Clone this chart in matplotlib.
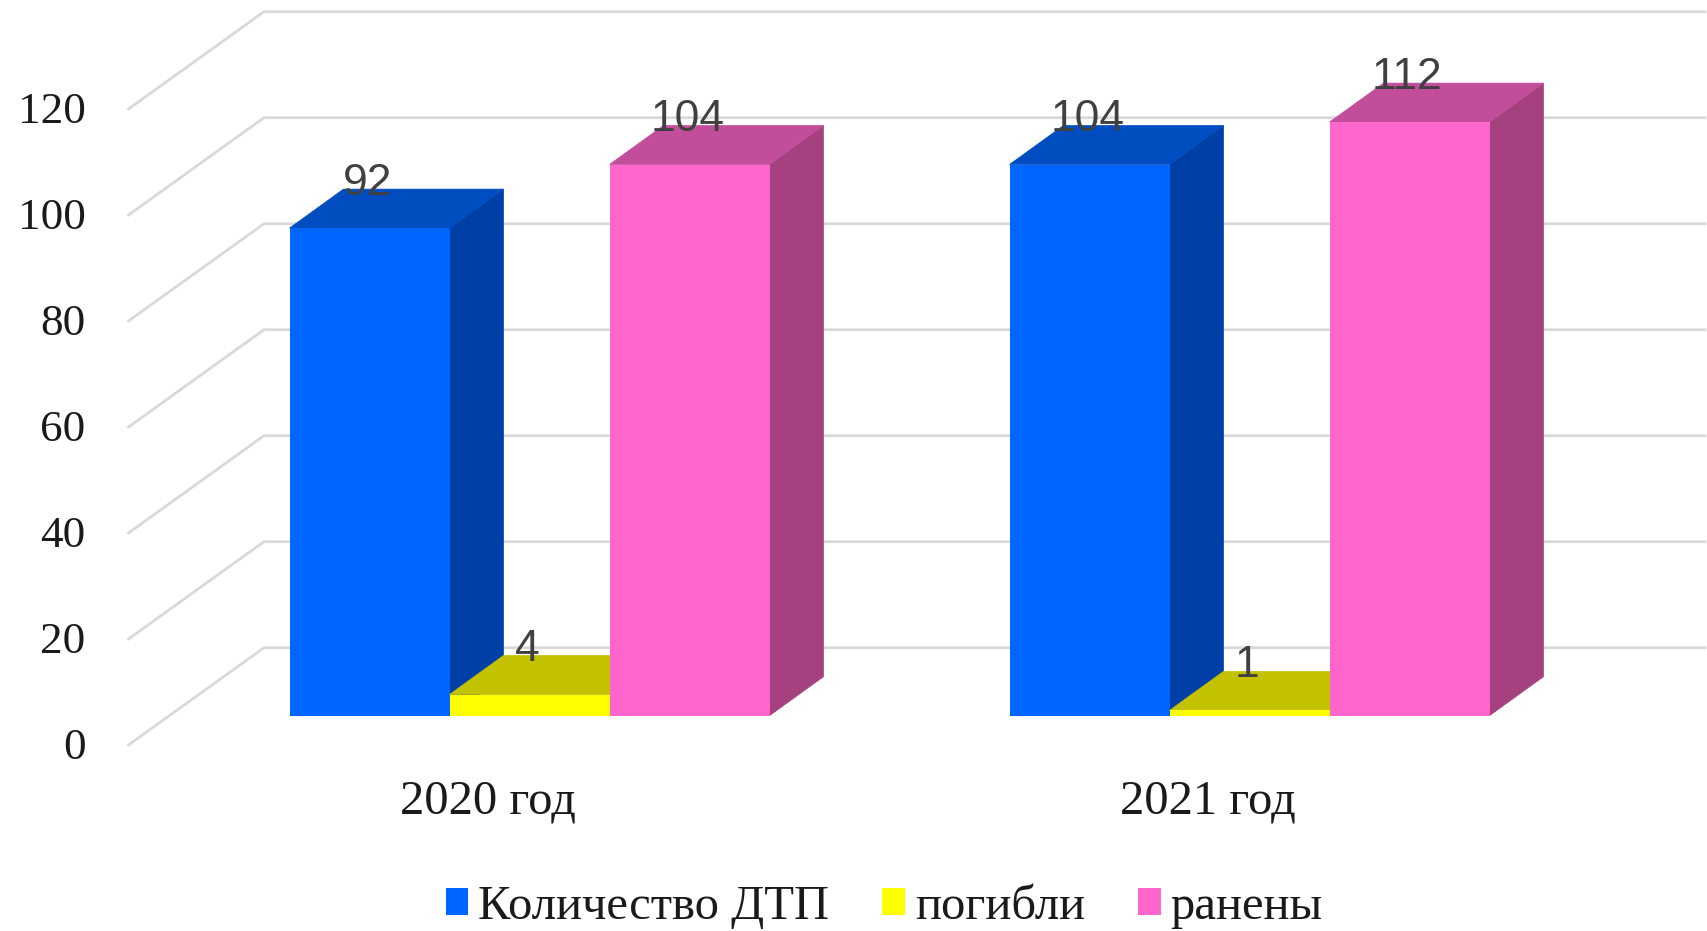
import matplotlib
matplotlib.use("Agg")
import matplotlib.pyplot as plt
from matplotlib.patches import Patch, Polygon

categories = ["2020 год", "2021 год"]
series_names = ["Количество ДТП", "погибли", "ранены"]
dtp = [92, 104]
killed = [4, 1]
injured = [104, 112]
y_ticks = [0, 20, 40, 60, 80, 100, 120]

FRONT = ["#0066ff", "#ffff00", "#ff66cc"]
TOP = ["#004dc2", "#c2c200", "#c24d9b"]
SIDE = ["#0040a6", "#a6a600", "#a6417f"]
GRID = "#d9d9d9"
SERIF = "Liberation Serif"
SANS = "Liberation Sans"

# --- scales: 720 px per category, 5.3 px per unit ---
W, H = 1708, 931
PX_X = 720.0
PX_Y = 5.3
X0 = 529.5
Y0 = 715.7

BAR_W = 160 / PX_X
DEPTH_X = 54 / PX_X
DEPTH_Y = 39 / PX_Y
# floor corners of the chart box
WALL_X = (264 - X0) / PX_X
WALL_Y = (Y0 - 647.7) / PX_Y
EDGE_X = (128.5 - X0) / PX_X
EDGE_Y = (Y0 - 745.0) / PX_Y
RIGHT_X = (1705 - X0) / PX_X

fig = plt.figure(figsize=(W / 100, H / 100), dpi=100)
ax = fig.add_axes([0, 0, 1, 1])
ax.set_xlim(-X0 / PX_X, (W - X0) / PX_X)
ax.set_ylim((Y0 - H) / PX_Y, Y0 / PX_Y)
ax.axis("off")

# --- gridlines on wall and floor ---
for t in y_ticks:
    ax.plot([EDGE_X, WALL_X, RIGHT_X], [t + EDGE_Y, t + WALL_Y, t + WALL_Y],
            color=GRID, lw=2.0, zorder=1, solid_joinstyle="miter")
    ax.text(-0.6168, t - 5.3, str(t), ha="right", va="center_baseline",
            fontsize=32.5, family=SERIF, color="#1a1a1a")

# --- 3d bars ---
for s, values in enumerate([dtp, killed, injured]):
    for i, v in enumerate(values):
        left = i + (s - 1.5) * BAR_W
        right = left + BAR_W
        z = 2 + s
        ax.add_patch(Polygon(
            [(right, 0), (right + DEPTH_X, DEPTH_Y),
             (right + DEPTH_X, v + DEPTH_Y), (right, v)],
            facecolor=SIDE[s], edgecolor=SIDE[s], lw=0.5, zorder=z))
        ax.add_patch(Polygon(
            [(left, v), (left + DEPTH_X, v + DEPTH_Y),
             (right + DEPTH_X, v + DEPTH_Y), (right, v)],
            facecolor=TOP[s], edgecolor=TOP[s], lw=0.5, zorder=z))
        ax.bar(left, v, width=BAR_W, align="edge", color=FRONT[s], lw=0, zorder=z)

# --- data labels on top of everything ---
for s, values in enumerate([dtp, killed, injured]):
    for i, v in enumerate(values):
        ax.text(i + (s - 1) * BAR_W - 0.003, v + 9.3, str(v), ha="center",
                va="center_baseline", fontsize=32, family=SANS,
                color="#404040", zorder=10)

# --- category labels ---
for i, c in enumerate(categories):
    ax.text(i - 0.058, -15.2, c, ha="center", va="center_baseline", fontsize=35,
            family=SERIF, color="#1a1a1a")

handles = [Patch(facecolor=c, lw=0) for c in FRONT]
leg = ax.legend(handles, series_names, ncols=3, loc="center",
                bbox_to_anchor=(884 / W, 1 - 907 / H), bbox_transform=fig.transFigure,
                frameon=False, prop={"family": SERIF, "size": 35},
                handlelength=0.47, handleheight=0.47, handletextpad=0.2,
                columnspacing=1.09, borderpad=0, labelcolor="#1a1a1a")

fig.savefig("out.png", dpi=100)
